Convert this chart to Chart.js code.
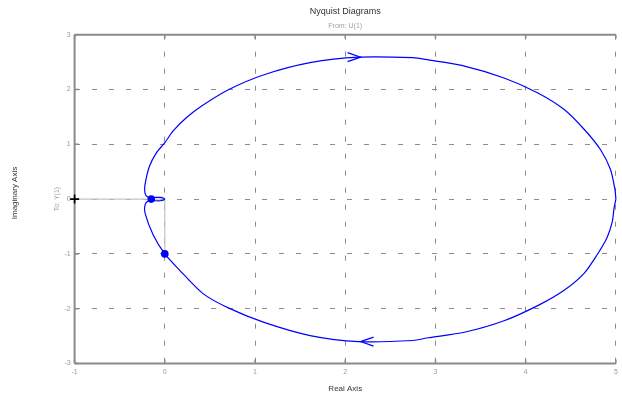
<!DOCTYPE html>
<html>
<head>
<meta charset="utf-8">
<script src="https://cdn.jsdelivr.net/npm/chart.js@4.4.0/dist/chart.umd.min.js"></script>
<style>
  html, body { margin: 0; padding: 0; background: #ffffff; }
  #wrap { width: 622px; height: 395px; }
</style>
</head>
<body>
<div id="wrap"><canvas id="c" width="622" height="395"></canvas></div>
<script>
// Nyquist locus, positive frequencies (lower half, from DC at the right towards the origin)
const lowerRe = [5.00, 4.98, 4.96, 4.90, 4.79, 4.65, 4.43, 4.15, 3.76, 3.32, 2.92, 2.75, 2.15, 1.61, 1.10, 0.71, 0.42, 0.16, 0.00, -0.13, -0.22, -0.22, -0.19, -0.15, -0.05, -0.01, 0.00];
const lowerIm = [0.00, -0.16, -0.41, -0.71, -1.02, -1.35, -1.66, -1.93, -2.22, -2.43, -2.53, -2.58, -2.60, -2.49, -2.25, -1.99, -1.72, -1.29, -1.00, -0.65, -0.25, -0.11, -0.04, -0.03, -0.03, -0.015, 0.00];
// Negative frequencies (upper half, from the origin back to DC)
const upperRe = [0.00, -0.01, -0.05, -0.15, -0.19, -0.22, -0.22, -0.17, -0.095, 0.00, 0.09, 0.235, 0.40, 0.71, 1.10, 1.61, 2.15, 2.75, 2.92, 3.29, 3.76, 4.13, 4.43, 4.65, 4.83, 4.94, 4.99, 5.00];
const upperIm = [0.00, 0.015, 0.03, 0.03, 0.04, 0.11, 0.26, 0.60, 0.84, 1.03, 1.24, 1.48, 1.69, 2.00, 2.27, 2.49, 2.59, 2.58, 2.54, 2.44, 2.21, 1.94, 1.63, 1.27, 0.90, 0.54, 0.17, 0.00];

// Highlighted points on the locus
const markerRe = [-0.15, 0.00];
const markerIm = [0.00, -1.00];

// Light guide lines from the critical point to the origin and down to -1j
const guideRe = [-1, 0, 0];
const guideIm = [0, 0, -1];

// Critical point -1 + 0j
const criticalRe = [-1];
const criticalIm = [0];

// Direction arrows on the locus (dir +1 = pointing right, -1 = pointing left)
const arrowRe = [2.17, 2.17];
const arrowIm = [2.59, -2.60];
const arrowDir = [1, -1];

// Axis ranges and tick steps
const xRange = [-1, 5];
const yRange = [-3, 3];
const tickStep = 1;

const FONT = '"Liberation Sans", Arial, Helvetica, sans-serif';
const BLUE = '#0000ff';
const AXIS_GRAY = '#8a8a8a';

const toPoints = (re, im) => re.map((r, i) => ({ x: r, y: im[i] }));

const decor = {
  id: 'nyquistDecor',
  beforeDatasetsDraw(chart) {
    const { ctx, chartArea: a, scales: { x, y } } = chart;
    ctx.save();
    ctx.strokeStyle = AXIS_GRAY;
    ctx.lineWidth = 2;
    ctx.beginPath();
    ctx.moveTo(a.left, a.top); ctx.lineTo(a.right, a.top);
    ctx.moveTo(a.left, a.top); ctx.lineTo(a.left, a.bottom);
    ctx.moveTo(a.left, a.bottom); ctx.lineTo(a.right, a.bottom);
    ctx.stroke();
    ctx.lineWidth = 1.5;
    ctx.beginPath();
    x.ticks.forEach(t => {
      const px = x.getPixelForValue(t.value);
      ctx.moveTo(px, a.bottom); ctx.lineTo(px, a.bottom - 4);
      ctx.moveTo(px, a.top); ctx.lineTo(px, a.top + 4);
    });
    y.ticks.forEach(t => {
      const py = y.getPixelForValue(t.value);
      ctx.moveTo(a.left, py); ctx.lineTo(a.left + 4, py);
    });
    ctx.stroke();
    ctx.restore();
  },
  afterDatasetsDraw(chart) {
    const { ctx, scales: { x, y } } = chart;
    ctx.save();
    ctx.strokeStyle = BLUE;
    ctx.lineWidth = 1.2;
    arrowRe.forEach((r, i) => {
      const px = x.getPixelForValue(r);
      const py = y.getPixelForValue(arrowIm[i]);
      const back = -arrowDir[i] * 13;
      ctx.beginPath();
      ctx.moveTo(px + back, py - 4.5);
      ctx.lineTo(px, py);
      ctx.lineTo(px + back, py + 4.5);
      ctx.stroke();
    });
    ctx.restore();
  },
  afterDraw(chart) {
    const { ctx, chartArea: a } = chart;
    const cx = (a.left + a.right) / 2;
    const cy = (a.top + a.bottom) / 2;
    ctx.save();
    ctx.textAlign = 'center';
    ctx.textBaseline = 'middle';
    ctx.fillStyle = '#333333';
    ctx.font = '9px ' + FONT;
    ctx.fillText('Nyquist Diagrams', cx, 12);
    ctx.font = '8px ' + FONT;
    ctx.fillText('Real Axis', cx, 389);
    ctx.fillStyle = '#a0a0a0';
    ctx.font = '7px ' + FONT;
    ctx.fillText('From: U(1)', cx, 26);
    ctx.save();
    ctx.translate(57, cy);
    ctx.rotate(-Math.PI / 2);
    ctx.fillText('To: Y(1)', 0, 0);
    ctx.restore();
    ctx.save();
    ctx.fillStyle = '#333333';
    ctx.font = '8px ' + FONT;
    ctx.translate(15, 193);
    ctx.rotate(-Math.PI / 2);
    ctx.fillText('Imaginary Axis', 0, 0);
    ctx.restore();
    ctx.restore();
  }
};

new Chart(document.getElementById('c'), {
  type: 'scatter',
  data: {
    datasets: [
      {
        data: toPoints(guideRe, guideIm),
        showLine: true,
        borderColor: '#c4c4c4',
        borderWidth: 1.2,
        pointRadius: 0,
        order: 5
      },
      {
        data: toPoints(lowerRe, lowerIm),
        showLine: true,
        borderColor: BLUE,
        borderWidth: 1.2,
        pointRadius: 0,
        tension: 0.25,
        clip: 4,
        order: 3
      },
      {
        data: toPoints(upperRe, upperIm),
        showLine: true,
        borderColor: BLUE,
        borderWidth: 1.2,
        pointRadius: 0,
        tension: 0.25,
        clip: 4,
        order: 3
      },
      {
        data: toPoints(markerRe, markerIm),
        showLine: false,
        pointRadius: 3.8,
        pointBackgroundColor: BLUE,
        pointBorderColor: BLUE,
        pointBorderWidth: 0,
        order: 1
      },
      {
        data: toPoints(criticalRe, criticalIm),
        showLine: false,
        pointStyle: 'cross',
        pointRadius: 4.5,
        pointBorderColor: '#000000',
        pointBorderWidth: 1.6,
        clip: 8,
        order: 0
      }
    ]
  },
  options: {
    responsive: false,
    animation: false,
    devicePixelRatio: 1,
    layout: { padding: { left: 0, right: 3.3, top: 34.7, bottom: 0 } },
    plugins: {
      legend: { display: false },
      tooltip: { enabled: false },
      title: { display: false }
    },
    scales: {
      x: {
        type: 'linear',
        min: xRange[0],
        max: xRange[1],
        afterFit(scale) { scale.height = 31.5; },
        ticks: { stepSize: tickStep, color: '#9a9a9a', font: { family: FONT, size: 7 }, padding: 4, maxRotation: 0 },
        grid: { color: '#8c8c8c', lineWidth: 1, drawTicks: false },
        border: { display: false, dash: [5, 12] }
      },
      y: {
        type: 'linear',
        min: yRange[0],
        max: yRange[1],
        afterFit(scale) { scale.width = 74.6; },
        ticks: { stepSize: tickStep, color: '#9a9a9a', font: { family: FONT, size: 7 }, padding: 4 },
        grid: { color: '#8c8c8c', lineWidth: 1, drawTicks: false },
        border: { display: false, dash: [5, 12] }
      }
    }
  },
  plugins: [decor]
});
</script>
</body>
</html>
